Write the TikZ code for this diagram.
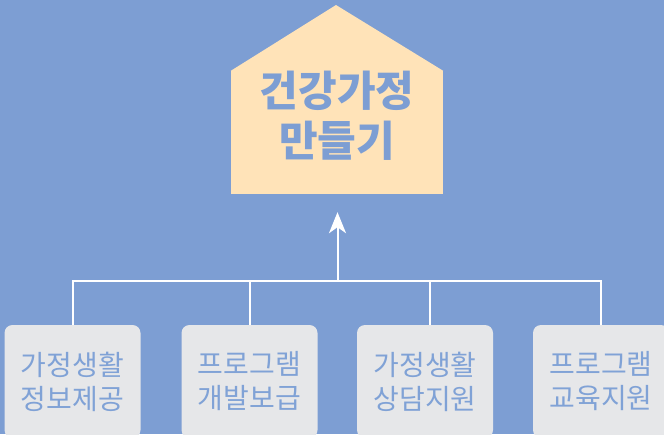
\documentclass[tikz,border=0pt]{standalone}
\usepackage{fontspec}
\newfontfamily\krfont{Noto Sans CJK KR}
\usepackage{xcolor}
\usetikzlibrary{arrows.meta,positioning,calc}

\definecolor{bgblue}{RGB}{125,158,211}
\definecolor{housefill}{RGB}{255,227,184}
\definecolor{boxfill}{RGB}{230,231,233}
\definecolor{boxtext}{RGB}{128,162,214}

\begin{document}
\begin{tikzpicture}[x=1pt,y=-1pt,
  house/.style={fill=housefill,inner sep=0pt,minimum width=212pt,minimum height=123pt},
  title/.style={align=center,text=bgblue,font=\krfont\bfseries\fontsize{42}{50}\selectfont},
  task/.style={fill=boxfill,rounded corners=8pt,minimum width=136pt,minimum height=113pt,
               inner sep=0pt,align=center,text=boxtext,font=\krfont\fontsize{28}{34}\selectfont},
  wire/.style={draw=white,line width=2pt},
  arr/.style={-{Stealth[length=21pt,width=17pt,inset=6pt]},line width=2pt,draw=white,fill=white}
]
\fill[bgblue] (0,0) rectangle (664,434);
\useasboundingbox (0,0) rectangle (664,434);

% goal
\node[house] (house) at (337,132.5) {};
\fill[housefill] (house.north west) -- (336,5) -- (house.north east) -- cycle;
\node[title] (goal) at (337,116) {건강가정\\만들기};

% tasks
\node[task] (info) at (72.5,381.5) {가정생활\\정보제공};
\node[task] (dev) at (249.5,381.5) {프로그램\\개발보급};
\node[task] (counsel) at (425,381.5) {가정생활\\상담지원};
\node[task] (edu) at (601,381.5) {프로그램\\교육지원};

% connectors
\coordinate (bus) at (337.5,281);
\draw[wire] (info.north) |- (bus) -| (edu.north);
\draw[wire] (dev.north) -- (dev.north |- bus);
\draw[wire] ([xshift=5pt]counsel.north) -- ([xshift=5pt]counsel.north |- bus);
\draw[arr] (bus) -- ([yshift=-18pt]house.south -| bus);
\end{tikzpicture}
\end{document}
